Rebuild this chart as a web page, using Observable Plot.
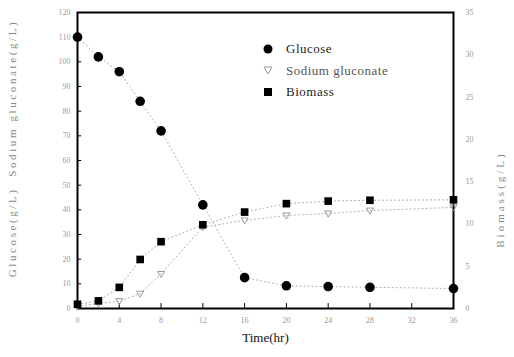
<!DOCTYPE html>
<html>
<head>
<meta charset="utf-8">
<script src="https://cdn.jsdelivr.net/npm/d3@7"></script>
<script src="https://cdn.jsdelivr.net/npm/@observablehq/plot@0.6"></script>
<style>
  html, body { margin: 0; padding: 0; background: #fff; }
  #wrap { position: relative; width: 514px; height: 357px; font-family: "Liberation Serif", serif; }
  #legend { position: absolute; left: 262px; top: 38px; font-size: 13px; color: #222; line-height: 21.5px; letter-spacing: 0.5px; }
  #legend div { display: flex; align-items: center; }
  #legend svg { margin-right: 12px; }
</style>
</head>
<body>
<div id="wrap">
  <div id="chart"></div>
  <div id="legend">
    <div><svg width="12" height="12"><circle cx="6" cy="6" r="4.5" fill="#000"/></svg>Glucose</div>
    <div><svg width="12" height="12"><path d="M2,3 L10,3 L6,10 Z" fill="none" stroke="#999" stroke-width="1"/></svg><span style="color:#555">Sodium gluconate</span></div>
    <div><svg width="12" height="12"><rect x="2" y="2" width="8" height="8" fill="#000"/></svg>Biomass</div>
  </div>
</div>
<script>
const time = [0, 2, 4, 6, 8, 12, 16, 20, 24, 28, 36];
const glucose = [110, 102, 96, 84, 72, 42, 12.5, 9.2, 8.9, 8.6, 8.1];
const gluconate = [1, 2, 3, 6, 14, 33, 35.7, 37.7, 38.5, 39.7, 41];
const biomass = [0.5, 0.9, 2.5, 5.8, 7.9, 9.9, 11.4, 12.4, 12.7, 12.8, 12.85];

const xTicks = [0, 4, 8, 12, 16, 20, 24, 28, 32, 36];
const yLeftTicks = [0, 10, 20, 30, 40, 50, 60, 70, 80, 90, 100, 110, 120];
const yRightTicks = [0, 5, 10, 15, 20, 25, 30, 35];
const leftMax = 120, rightMax = 35;
const k = leftMax / rightMax;

const rows = time.map((t, i) => ({t, glucose: glucose[i], gluconate: gluconate[i], biomass: biomass[i] * k}));

const downTriangle = {
  draw(ctx, size) {
    const r = Math.sqrt(size / 3);
    ctx.moveTo(-r, -r * 0.7);
    ctx.lineTo(r, -r * 0.7);
    ctx.lineTo(0, r * 1.0);
    ctx.closePath();
  }
};

const dotted = {stroke: "#aaa", strokeWidth: 1, strokeDasharray: "1,3"};

const chart = Plot.plot({
  width: 514,
  height: 357,
  marginLeft: 77,
  marginRight: 61,
  marginTop: 12,
  marginBottom: 49,
  style: {fontFamily: "Liberation Serif, serif", background: "#fff"},
  x: {domain: [0, 36]},
  y: {domain: [0, leftMax]},
  marks: [
    Plot.line(rows, {x: "t", y: "glucose", ...dotted}),
    Plot.line(rows, {x: "t", y: "gluconate", ...dotted}),
    Plot.line(rows, {x: "t", y: "biomass", ...dotted}),
    Plot.axisX(xTicks, {tickSize: 0, tickPadding: 9, fontSize: 8, fill: "#999", label: null}),
    Plot.axisY(yLeftTicks, {anchor: "left", tickSize: 0, tickPadding: 7, fontSize: 8, fill: "#999", label: null}),
    Plot.axisY(yRightTicks.map(d => d * k), {anchor: "right", tickSize: 0, tickPadding: 12, fontSize: 8, fill: "#999", label: null, tickFormat: d => Math.round(d / k)}),
    Plot.ruleX(xTicks, {y1: 0, y2: 2, stroke: "#000", strokeWidth: 1}),
    Plot.ruleY(yLeftTicks, {x1: 0, x2: 0.4, stroke: "#000", strokeWidth: 1}),
    Plot.frame({stroke: "#000", strokeWidth: 2}),
    Plot.dot(rows, {x: "t", y: "gluconate", symbol: downTriangle, r: 3.5, stroke: "#999", strokeWidth: 1, fill: "none"}),
    Plot.dot(rows, {x: "t", y: "biomass", symbol: "square", r: 4.3, fill: "#000", stroke: "none"}),
    Plot.dot(rows, {x: "t", y: "glucose", symbol: "circle", r: 4.8, fill: "#000", stroke: "none"}),
    Plot.text(["Time(hr)"], {frameAnchor: "bottom", dy: 33, fontSize: 13, fill: "#111"}),
    Plot.text(["Glucose(g/L)  Sodium gluconate(g/L)"], {frameAnchor: "left", textAnchor: "middle", dx: -65, dy: -12, rotate: -90, fontSize: 11, fill: "#888"}),
    Plot.text(["Biomass(g/L)"], {frameAnchor: "right", textAnchor: "middle", dx: 47, dy: 39, rotate: -90, fontSize: 11, fill: "#888"})
  ]
});
d3.select(chart).selectAll("text").each(function() {
  const s = this.textContent;
  if (s.includes("Sodium gluconate")) this.style.letterSpacing = "2.6px";
  if (s === "Biomass(g/L)") this.style.letterSpacing = "3px";
});
document.getElementById("chart").appendChild(chart);
</script>
</body>
</html>
